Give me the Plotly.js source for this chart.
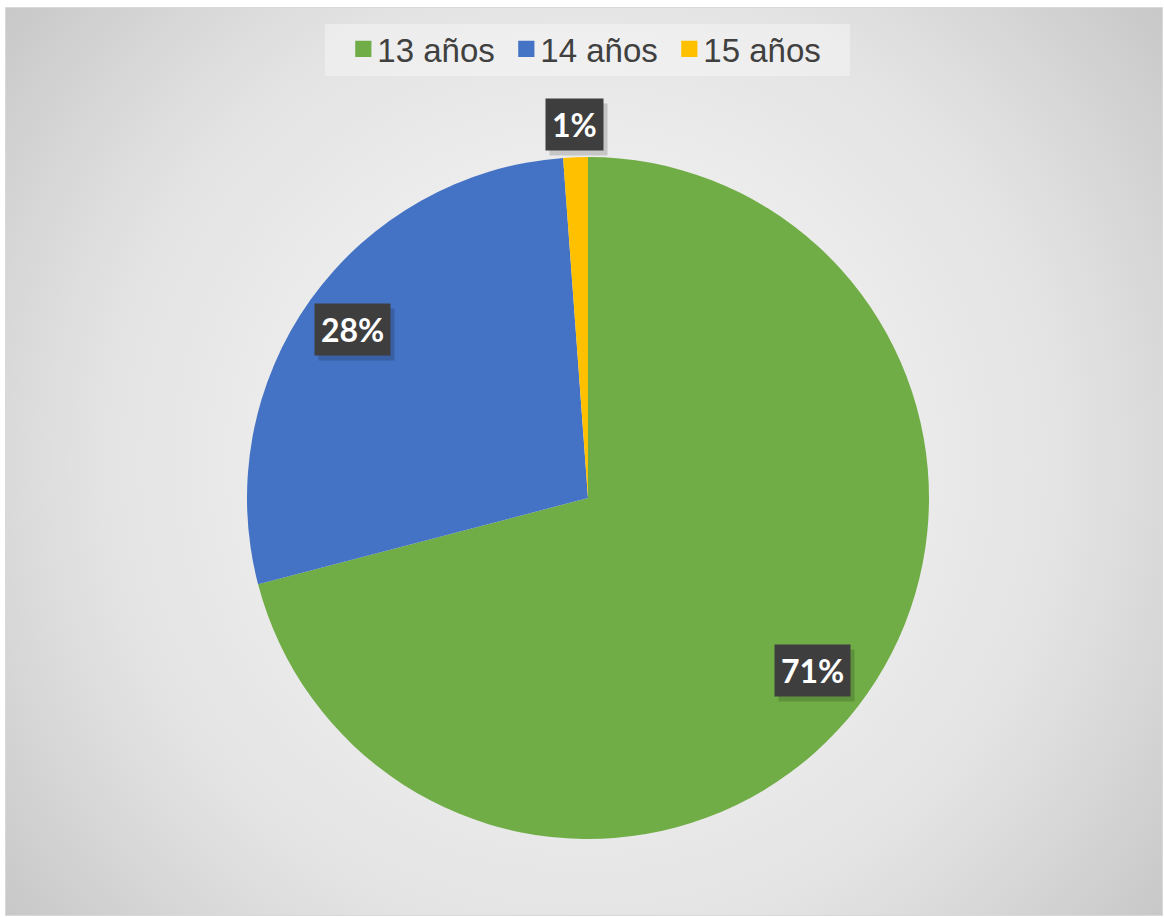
<!DOCTYPE html>
<html>
<head>
<meta charset="utf-8">
<script src="https://cdn.plot.ly/plotly-3.0.1.min.js"></script>
<style>
  html, body { margin: 0; padding: 0; background: #ffffff; }
  #bg {
    position: absolute; left: 5px; top: 7px; width: 1158px; height: 909px;
    box-sizing: border-box; border: 1px solid #d9d9d9;
    background: radial-gradient(circle farthest-corner at 50% 50%, #f8f8f8 0%, #f0f0f0 30%, #e9e9e9 50%, #e3e3e3 66%, #dadada 78%, #c8c8c8 100%);
  }
  #chart { position: absolute; left: 0; top: 0; width: 1164px; height: 917px; }
  /* cuadrados de leyenda algo más grandes y texto más cerca */
  #chart .legendpoints path { transform: translate(20px, 0) scale(1.35); }
  #chart .legendtext { transform: translateX(-6px); }
</style>
</head>
<body>
<div id="bg"></div>
<div id="chart"></div>
<script>
// datos
const labels = ['13 años', '14 años', '15 años'];
const counts = [61, 24, 1];
const colors = ['#70ad47', '#4472c4', '#ffc000'];
const pctText = ['71%', '28%', '1%'];

const W = 1164, H = 917;
const CX = 588, CY = 498, R = 341;   // centro y radio del pastel en px

// distancia de cada etiqueta al centro (fracción del radio)
const labelDist = [0.83, 0.85, 1.095];

const total = counts.reduce((a, b) => a + b, 0);

const trace = {
    type: 'pie',
    labels: labels,
    values: counts,
    marker: { colors: colors, line: { width: 0 } },
    sort: false,
    direction: 'clockwise',
    rotation: 0,
    textinfo: 'none',
    hoverinfo: 'label+percent',
    domain: {
        x: [(CX - R) / W, (CX + R) / W],
        y: [(H - CY - R) / H, (H - CY + R) / H]
    }
};

// etiquetas con caja oscura, colocadas en el ángulo medio de cada porción
const annotations = [];
let acc = 0;
counts.forEach((v, i) => {
    const mid = (acc + v / 2) / total * 2 * Math.PI;
    acc += v;
    const d = R * labelDist[i];
    const x = (CX + d * Math.sin(mid)) / W;
    const y = (H - CY + d * Math.cos(mid)) / H;
    const base = {
        x: x, y: y, xref: 'paper', yref: 'paper',
        xanchor: 'center', yanchor: 'middle',
        text: pctText[i], showarrow: false,
        borderpad: 6,
        font: { family: 'Lato, "Open Sans", sans-serif', size: 32, weight: 700, color: '#ffffff' }
    };
    // sombra
    annotations.push(Object.assign({}, base, {
        bgcolor: 'rgba(0,0,0,0.16)', xshift: 4, yshift: -5,
        font: Object.assign({}, base.font, { color: 'rgba(0,0,0,0)' })
    }));
    annotations.push(Object.assign({}, base, { bgcolor: '#3e3e3e' }));
});

const layout = {
    width: W,
    height: H,
    margin: { t: 0, r: 0, b: 0, l: 0 },
    paper_bgcolor: 'rgba(0,0,0,0)',
    plot_bgcolor: 'rgba(0,0,0,0)',
    showlegend: true,
    legend: {
        orientation: 'h',
        x: 0.505, xanchor: 'center',
        y: 1 - 21 / H, yanchor: 'top',
        bgcolor: 'rgba(0,0,0,0)',
        font: { family: '"Liberation Sans", Arial, sans-serif', size: 33, color: '#404040' },
        entrywidth: 118,
        entrywidthmode: 'pixels',
        traceorder: 'normal'
    },
    // fondo de la leyenda
    shapes: [{
        type: 'rect', xref: 'paper', yref: 'paper', layer: 'below',
        x0: 325 / W, x1: 850 / W, y0: 1 - 76 / H, y1: 1 - 24 / H,
        fillcolor: 'rgba(255,255,255,0.35)', line: { width: 0 }
    }],
    annotations: annotations
};

Plotly.newPlot('chart', [trace], layout, { displayModeBar: false, staticPlot: true });
</script>
</body>
</html>
